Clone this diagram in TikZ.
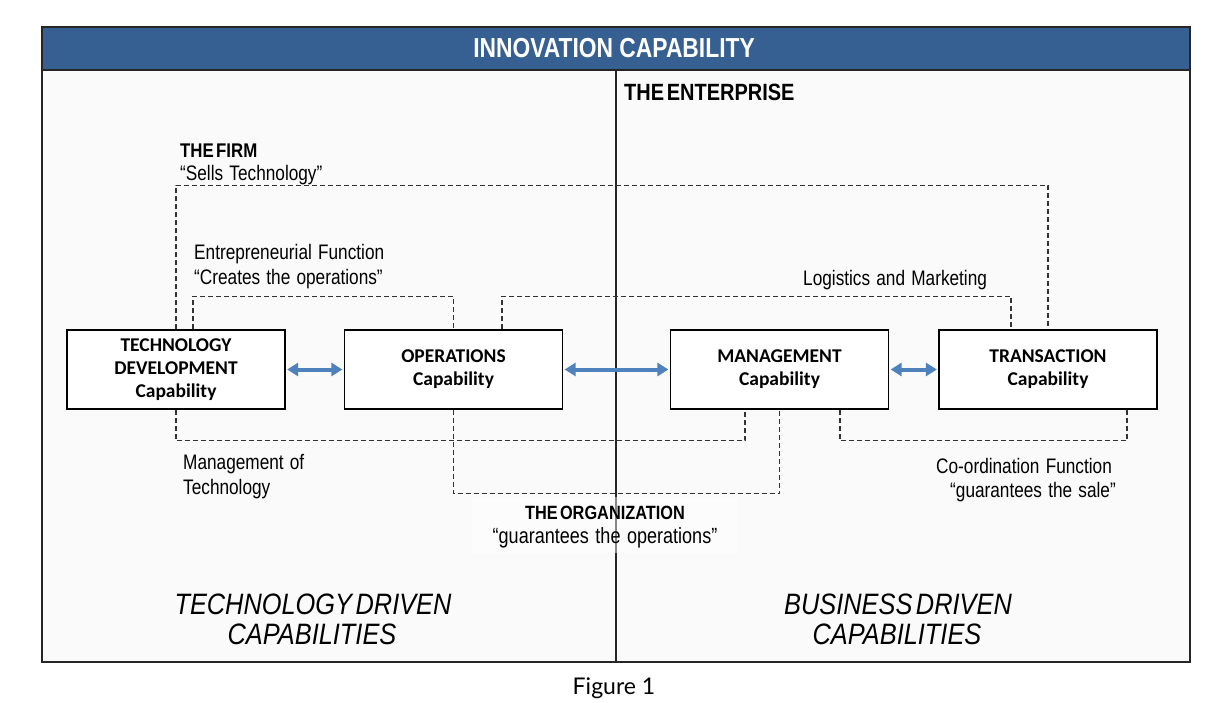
\documentclass[tikz,border=0pt]{standalone}
\usepackage{fontspec}
\usetikzlibrary{arrows.meta}
% distinct stretch factors keep each family a separate font instance,
% so that each keeps its own word spacing
\newfontfamily\lblfont[FakeStretch=0.82,WordSpace=1.3]{Liberation Sans}
\newfontfamily\headfont[FakeStretch=0.85,WordSpace=0.5]{Liberation Sans}
\newfontfamily\titlefont[FakeStretch=0.83,WordSpace=1.0]{Liberation Sans}
\newfontfamily\drivefont[FakeStretch=0.86,WordSpace=0.5]{Liberation Sans}
\newfontfamily\boxfont{Carlito}
\newfontfamily\figfont{Lato}
\definecolor{bandblue}{HTML}{376092}
\definecolor{arrowblue}{HTML}{4F81BD}
\definecolor{panel}{HTML}{FAFAFA}
\begin{document}
\begin{tikzpicture}[x=1pt,y=-1pt,
  capbox/.style={draw=black, line width=1.3pt, fill=white, minimum width=218pt,
    minimum height=79pt, inner sep=0pt, align=center,
    font=\boxfont\bfseries\fontsize{19.5}{23}\selectfont},
  link/.style={draw=black!80, line width=1.1pt, dash pattern=on 5pt off 3pt},
  duplex/.style={draw=arrowblue, line width=4pt,
    {Triangle[length=11pt,width=13pt]}-{Triangle[length=11pt,width=13pt]},
    shorten <=1.5pt, shorten >=1.5pt},
  lbl/.style={inner sep=0pt, font=\lblfont\fontsize{21}{25}\selectfont},
  hdlbl/.style={inner sep=0pt, font=\headfont\bfseries\fontsize{19.8}{24}\selectfont},
  drive/.style={inner sep=0pt, font=\drivefont\itshape\fontsize{29.5}{32}\selectfont}]
\useasboundingbox (0,0) rectangle (1230,703);
\fill[white] (0,0) rectangle (1230,703);

% frame, header band and centre divider
\fill[panel] (42,27) rectangle (1190,662);
\draw[black!85, line width=1.3pt] (42,27) rectangle (1190,662);
\draw[black!85, line width=1.1pt] (616,70) -- (616,662);
\filldraw[fill=bandblue, draw=black!85, line width=1.3pt] (42,27) rectangle (1190,70);
\node[inner sep=0pt, text=white, anchor=base,
  font=\titlefont\bfseries\fontsize{27.5}{30}\selectfont] (title) at (614,58) {INNOVATION CAPABILITY};
\node[hdlbl, anchor=base west, font=\headfont\bfseries\fontsize{23.5}{26}\selectfont] (enterprise) at (624,101) {THE ENTERPRISE};

% capability boxes
\node[capbox] (td) at (176,369.5) {TECHNOLOGY\\DEVELOPMENT\\Capability};
\node[capbox] (ops) at (453.5,369.5) {OPERATIONS\\Capability};
\node[capbox] (mgmt) at (779.5,369.5) {MANAGEMENT\\Capability};
\node[capbox] (trans) at (1048,369.5) {TRANSACTION\\Capability};

% two-way links between neighbouring capabilities
\draw[duplex] (td.east) -- (ops.west);
\draw[duplex] (ops.east) -- (mgmt.west);
\draw[duplex] (mgmt.east) -- (trans.west);

% dashed functional loops
\draw[link] (td.north) -- ++(0,-144) -| (trans.north);
\draw[link] ([xshift=17pt]td.north) -- ++(0,-33) -| (ops.north);
\draw[link] ([xshift=48.5pt]ops.north) -- ++(0,-33) -| ([xshift=-37pt]trans.north);
\draw[link] (td.south) -- ++(0,31) -| ([xshift=-34.5pt]mgmt.south);
\draw[link] (ops.south) -- ++(0,84) -| (mgmt.south);
\draw[link] ([xshift=60.5pt]mgmt.south) -- ++(0,31) -| ([xshift=79pt]trans.south);

% loop labels
\node[hdlbl, anchor=base west] (firm) at (180,158) {THE FIRM};
\node[lbl, anchor=base west] (firmq) at (180,181) {“Sells Technology”};
\node[lbl, anchor=base west] (entre) at (194,259) {Entrepreneurial Function};
\node[lbl, anchor=base west] (entreq) at (194,284) {“Creates the operations”};
\node[lbl, anchor=base west] (logi) at (803,285) {Logistics and Marketing};
\node[lbl, anchor=base west] (motA) at (183,469) {Management of};
\node[lbl, anchor=base west] (motB) at (183,494) {Technology};
\node[lbl, anchor=base west] (coord) at (936,473) {Co-ordination Function};
\node[lbl, anchor=base west] (coordq) at (950,497) {“guarantees the sale”};

% organization caption on a pale backdrop
\fill[white, fill opacity=0.45] (472,497) rectangle (738,553);
\node[hdlbl, anchor=base, font=\headfont\bfseries\fontsize{19.2}{22}\selectfont] (org) at (605,519) {THE ORGANIZATION};
\node[lbl, anchor=base, font=\lblfont\fontsize{22}{25}\selectfont] (orgq) at (605,543) {“guarantees the operations”};

% lower headings
\node[drive, anchor=base] (techA) at (313,614) {TECHNOLOGY DRIVEN};
\node[drive, anchor=base] (techB) at (312,644) {CAPABILITIES};
\node[drive, anchor=base] (busA) at (898,614) {BUSINESS DRIVEN};
\node[drive, anchor=base] (busB) at (897,644) {CAPABILITIES};

% figure caption
\node[inner sep=0pt, anchor=base, font=\figfont\fontsize{23}{26}\selectfont] (fig) at (614,694) {Figure 1};
\end{tikzpicture}
\end{document}
